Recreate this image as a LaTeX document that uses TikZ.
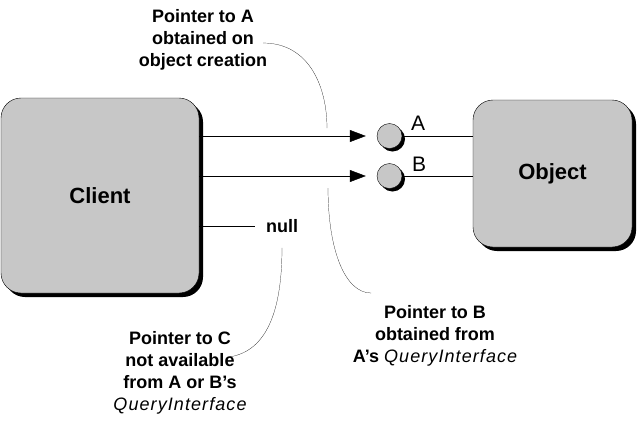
\documentclass[tikz,border=0pt]{standalone}
\usepackage{fontspec}
\setmainfont{Liberation Sans}
\newfontfamily\qifont{Liberation Sans}[LetterSpace=6]
\usetikzlibrary{arrows.meta,shadows}
\newcommand{\qi}{{\qifont\mdseries\itshape QueryInterface}}
\tikzset{
  box/.style={draw, thin, rounded corners=20pt, fill=black!22, inner sep=0pt,
    font=\bfseries\fontsize{22}{26}\selectfont,
    drop shadow={shadow xshift=4pt, shadow yshift=-4pt, fill=black, opacity=1}},
  port/.style={circle, draw, thin, fill=black!22, minimum size=25pt, inner sep=0pt,
    drop shadow={shadow xshift=3pt, shadow yshift=-3pt, fill=black, opacity=1}},
  note/.style={align=center, inner sep=0pt, font=\bfseries\fontsize{18}{22}\selectfont},
  tip/.style={-{Triangle[length=16pt,width=12pt]}},
  lead/.style={very thin}
}
\begin{document}
\begin{tikzpicture}[x=1pt,y=-1pt]
                \useasboundingbox (0,0) rectangle (637,429);

                \node[box, minimum width=198pt, minimum height=195pt] (client) at (100,195.5) {Client};
                \node[box, minimum width=159pt, minimum height=147pt] (object) at (552.5,173.5) {Object};

                \node[port] (pa) at (389.5,136) {};
                \node[port] (pb) at (389.5,176) {};
                \node[font=\fontsize{21}{24}\selectfont] (la) at (418,123) {A};
                \node[font=\fontsize{21}{24}\selectfont] (lb) at (419,164) {B};

                \draw[tip] (client.east |- pa) -- ([xshift=-11pt]pa.west);
                \draw[tip] (client.east |- pb) -- ([xshift=-11pt]pb.west);
                \draw (pa.east) -- (pa.east -| object.west);
                \draw (pb.east) -- (pb.east -| object.west);

                \node[note] (nul) at (282,226) {null};
                \draw (client.east |- nul) -- ([xshift=-11pt]nul.west);

                \node[note] (ptra) at (203,40) {Pointer to A\\obtained on\\object creation};
                \node[note] (ptrb) at (435,336) {Pointer to B\\obtained from\\A's \qi};
                \node[note] (ptrc) at (180,373) {Pointer to C\\not available\\from A or B's\\\qi};

                \coordinate (ea) at (263,43);
                \coordinate (fa) at (327,128);
                \coordinate (eb) at (328,188);
                \coordinate (fb) at (371,293);
                \coordinate (fc) at (229,357);

                \draw[lead] (ea) .. controls (310,43) and (327,88) .. (fa);
                \draw[lead] (eb) .. controls (328,250) and (345,293) .. (fb);
                \draw[lead] ([yshift=-15pt]nul.south) .. controls (282,320) and (262,352) .. (fc);
            \end{tikzpicture}
\end{document}
